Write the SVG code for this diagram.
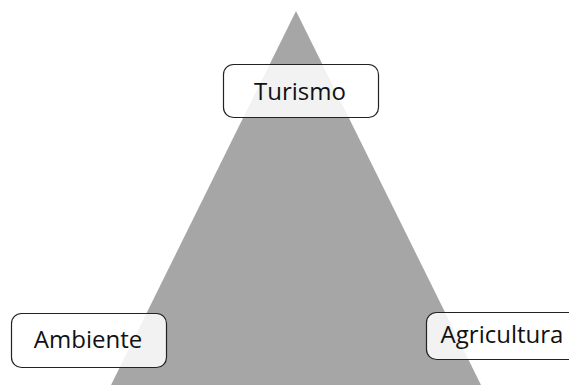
<svg xmlns="http://www.w3.org/2000/svg" width="569" height="385" viewBox="0 0 569 385">
<style>
.box{fill:#fff;fill-opacity:0.86;stroke:#222;stroke-width:1.2}
.lbl{font-family:"Open Sans","Noto Sans",sans-serif;font-size:24px;fill:#111;text-anchor:middle}
</style>
<rect width="569" height="385" fill="#fff"/>
<g id="pyramid"><polygon points="296,11 481,385 111,385" fill="#a6a6a6"/></g>
<g id="connectors"></g>
<g id="turismo"><rect class="box" x="223.5" y="64.5" width="155" height="53" rx="10"/><text class="lbl" x="300" y="100">Turismo</text></g>
<g id="ambiente"><rect class="box" x="11.5" y="313.5" width="155" height="54" rx="10"/><text class="lbl" x="88" y="348">Ambiente</text></g>
<g id="agricultura"><rect class="box" x="426.5" y="312.5" width="160" height="47" rx="10"/><text class="lbl" x="502" y="343">Agricultura</text></g>
</svg>
